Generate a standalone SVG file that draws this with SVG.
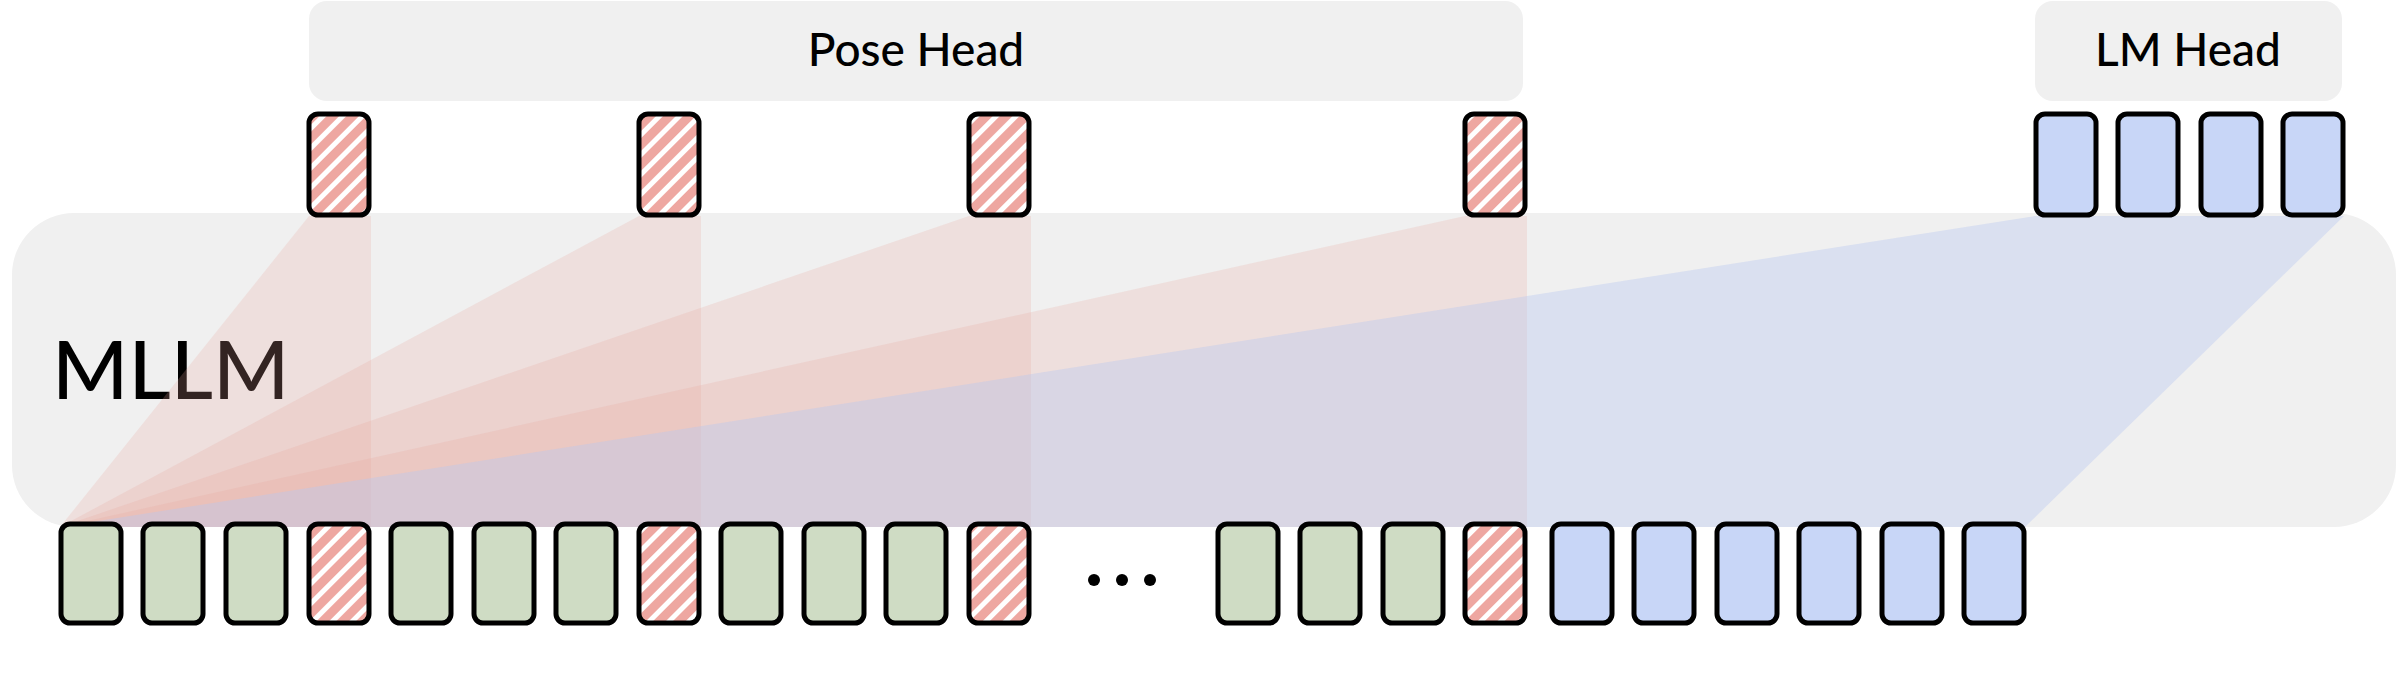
<svg xmlns="http://www.w3.org/2000/svg" width="2400" height="695" viewBox="0 0 2400 695">
<defs>
<pattern id="stripe" width="14" height="14" patternUnits="userSpaceOnUse" patternTransform="rotate(-45)">
<rect width="14" height="14" fill="#eea7a1"/>
<rect width="14" height="5" fill="#fff"/>
</pattern>
</defs>
<style>
.tok{stroke:#000;stroke-width:5;}
.g{fill:#cfdcc4}.b{fill:#c8d6f7}.p{fill:url(#stripe)}
.head{fill:#f0f0f0}
.rf{fill:#e6a29c;fill-opacity:0.22}
.bf{fill:#b9c9ef;fill-opacity:0.4}
.lbl{font-family:Lato,"Noto Sans",sans-serif;font-weight:500;fill:#000}
</style>
<g id="mllm"><rect x="12" y="213" width="2384" height="314" rx="62" class="head"/><text x="52" y="399" class="lbl" font-size="82">MLLM</text></g>
<g id="pose-head"><rect x="309" y="1" width="1214" height="100" rx="18" class="head"/><text x="916" y="66" class="lbl" font-size="46" text-anchor="middle">Pose Head</text></g>
<g id="lm-head"><rect x="2035" y="1" width="307" height="100" rx="18" class="head"/><text x="2188" y="66" class="lbl" font-size="46" text-anchor="middle">LM Head</text></g>
<g id="connectors">
<polygon class="rf" points="60,527 309,216 371,216 371,527"/>
<polygon class="rf" points="60,527 639,216 701,216 701,527"/>
<polygon class="rf" points="60,527 969,216 1031,216 1031,527"/>
<polygon class="rf" points="60,527 1465,216 1527,216 1527,527"/>
<polygon class="bf" points="60,527 2035,216 2344,216 2025,527"/>
</g>
<g id="top-tokens">
<rect class="tok p" x="309" y="114" width="60" height="101" rx="9"/>
<rect class="tok p" x="639" y="114" width="60" height="101" rx="9"/>
<rect class="tok p" x="969" y="114" width="60" height="101" rx="9"/>
<rect class="tok p" x="1465" y="114" width="60" height="101" rx="9"/>
<rect class="tok b" x="2036" y="114" width="60" height="101" rx="9"/>
<rect class="tok b" x="2118" y="114" width="60" height="101" rx="9"/>
<rect class="tok b" x="2201" y="114" width="60" height="101" rx="9"/>
<rect class="tok b" x="2283" y="114" width="60" height="101" rx="9"/>
</g>
<g id="input-tokens">
<rect class="tok g" x="61" y="524" width="60" height="99" rx="9"/>
<rect class="tok g" x="143" y="524" width="60" height="99" rx="9"/>
<rect class="tok g" x="226" y="524" width="60" height="99" rx="9"/>
<rect class="tok p" x="309" y="524" width="60" height="99" rx="9"/>
<rect class="tok g" x="391" y="524" width="60" height="99" rx="9"/>
<rect class="tok g" x="474" y="524" width="60" height="99" rx="9"/>
<rect class="tok g" x="556" y="524" width="60" height="99" rx="9"/>
<rect class="tok p" x="639" y="524" width="60" height="99" rx="9"/>
<rect class="tok g" x="721" y="524" width="60" height="99" rx="9"/>
<rect class="tok g" x="804" y="524" width="60" height="99" rx="9"/>
<rect class="tok g" x="886" y="524" width="60" height="99" rx="9"/>
<rect class="tok p" x="969" y="524" width="60" height="99" rx="9"/>
<circle cx="1094" cy="580" r="6"/><circle cx="1122" cy="580" r="6"/><circle cx="1150" cy="580" r="6"/>
<rect class="tok g" x="1218" y="524" width="60" height="99" rx="9"/>
<rect class="tok g" x="1300" y="524" width="60" height="99" rx="9"/>
<rect class="tok g" x="1383" y="524" width="60" height="99" rx="9"/>
<rect class="tok p" x="1465" y="524" width="60" height="99" rx="9"/>
<rect class="tok b" x="1552" y="524" width="60" height="99" rx="9"/>
<rect class="tok b" x="1634" y="524" width="60" height="99" rx="9"/>
<rect class="tok b" x="1717" y="524" width="60" height="99" rx="9"/>
<rect class="tok b" x="1799" y="524" width="60" height="99" rx="9"/>
<rect class="tok b" x="1882" y="524" width="60" height="99" rx="9"/>
<rect class="tok b" x="1964" y="524" width="60" height="99" rx="9"/>
</g>
</svg>
